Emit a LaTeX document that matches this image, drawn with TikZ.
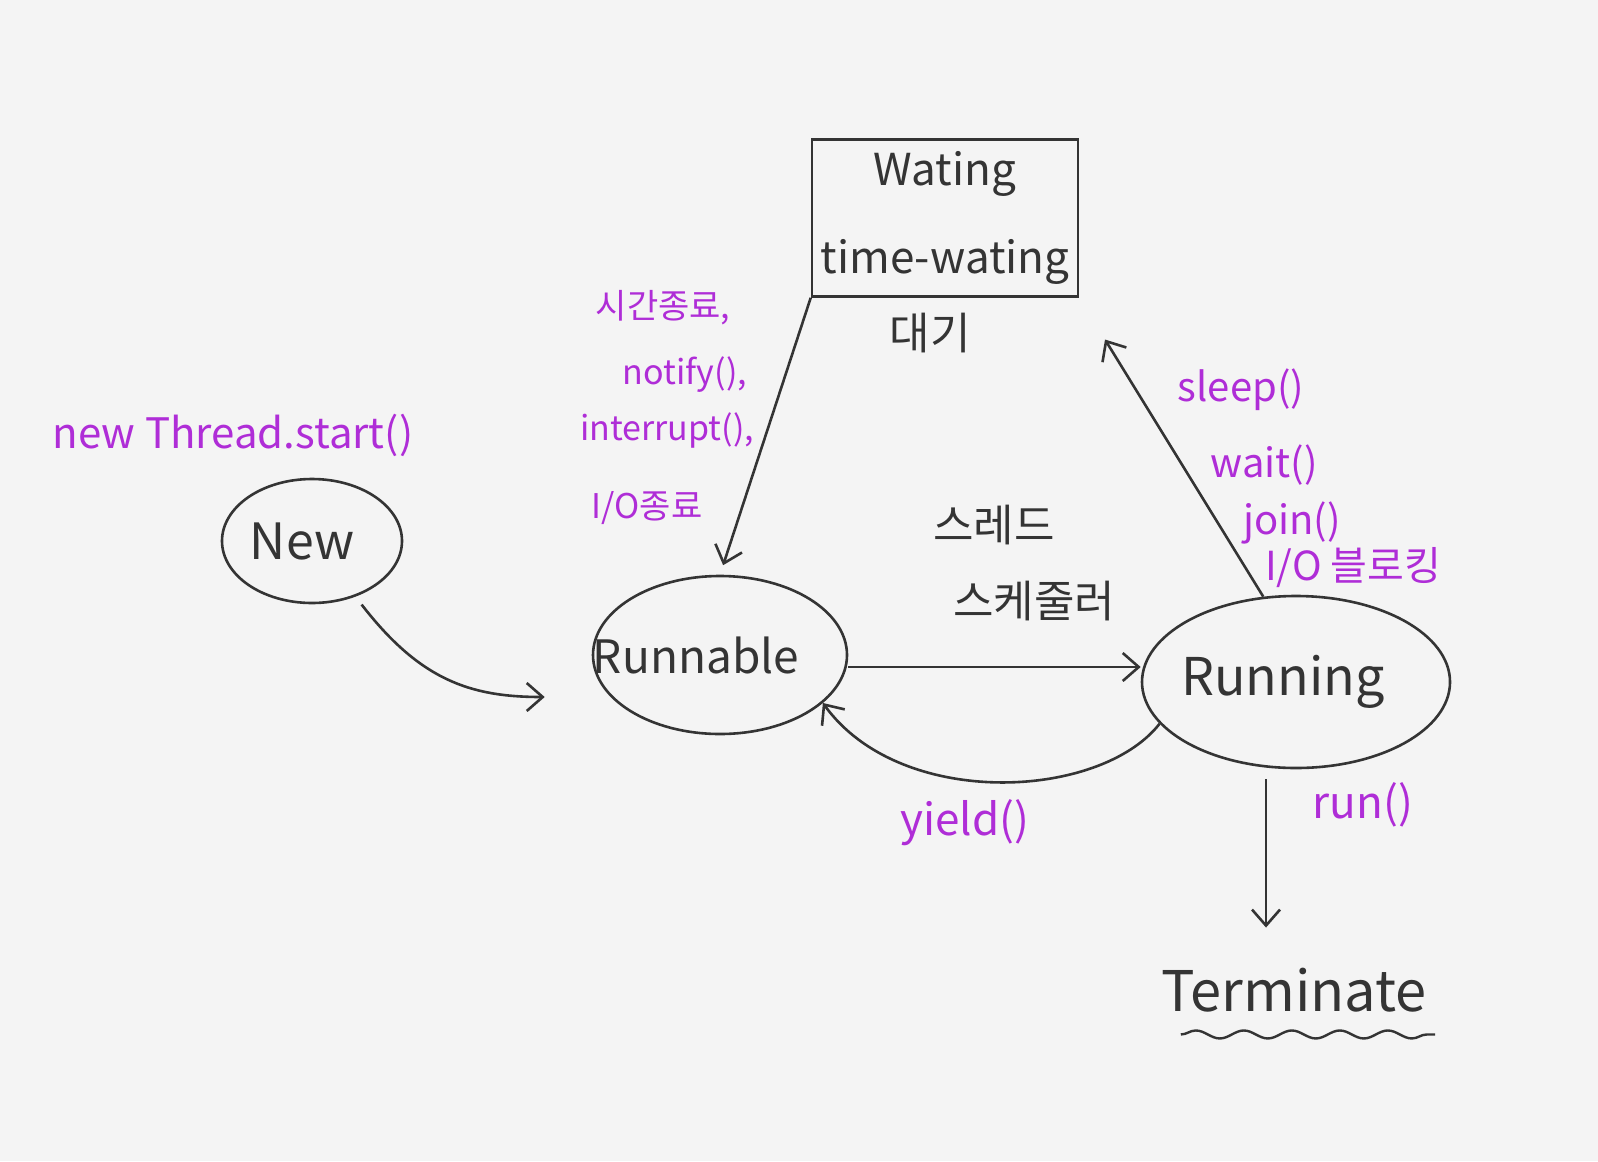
\documentclass[tikz,border=0pt]{standalone}
\usepackage{fontspec}
\setmainfont{Noto Sans CJK KR}
\usetikzlibrary{shapes.geometric,arrows.meta,decorations.pathmorphing}
\definecolor{ink}{RGB}{52,52,52}
\definecolor{pen}{RGB}{175,45,215}
\definecolor{paper}{RGB}{244,244,244}
\newcommand{\zbox}[2]{\makebox[0pt]{#1\kern #2}}
\begin{document}
\begin{tikzpicture}[x=0.5pt,y=-0.5pt,
  state/.style={ellipse,draw=ink,line width=1.3pt,inner sep=0pt,text=ink,font=\fontsize{25}{30}\selectfont},
  waitbox/.style={rectangle,draw=ink,line width=1.3pt,text=ink,align=center,minimum width=133pt,minimum height=78.5pt,inner sep=0pt,font=\fontsize{22}{44}\selectfont},
  arr/.style={draw=ink,line width=1.3pt,-{Straight Barb[length=8pt,width=14pt]}},
  lblL/.style={text=pen,inner sep=0pt,font=\fontsize{17}{20}\selectfont},
  lblR/.style={text=pen,inner sep=0pt,font=\fontsize{20}{24}\selectfont},
  lbl/.style={text=pen,inner sep=0pt,font=\fontsize{22}{26}\selectfont},
  note/.style={text=ink,inner sep=0pt,font=\fontsize{22}{26}\selectfont}]
\fill[paper] (0,0) rectangle (1598,1161);
\useasboundingbox (0,0) rectangle (1598,1161);

% states
\node[state,minimum width=90pt,minimum height=62pt] (new) at (312,541) {\zbox{New}{10pt}};
\node[state,minimum width=127pt,minimum height=79pt,font=\fontsize{23}{28}\selectfont] (runnable) at (720,655) {\zbox{Runnable}{24pt}};
\node[state,minimum width=154pt,minimum height=86pt,font=\fontsize{26}{30}\selectfont] (running) at (1296,682) {\zbox{Running}{13pt}};
\node[waitbox] (wbox) at (945,218) {Wating\\time-wating};
\node[text=ink,inner sep=0pt,font=\fontsize{28}{32}\selectfont] (term) at (1294,990) {Terminate};

% labels
\node[lbl,font=\fontsize{21}{25}\selectfont] (startlbl) at (233,435) {new Thread.start()};
\node[note] (daegi) at (930,333) {대기};
\node[note] (sch1) at (994,525) {스레드};
\node[note] (sch2) at (1034,601) {스케줄러};
\node[lblL] (l1) at (663,308) {시간종료,};
\node[lblL] (l2) at (685,375) {notify(),};
\node[lblL] (l3) at (667,430) {interrupt(),};
\node[lblL] (l4) at (647,508) {I/O종료};
\node[lblR] (r1) at (1241,390) {sleep()};
\node[lblR] (r2) at (1264,465) {wait()};
\node[lblR] (r3) at (1292,523) {join()};
\node[lblR] (r4) at (1353,568) {I/O 블로킹};
\node[lbl] (yieldlbl) at (965,823) {yield()};
\node[lbl] (runlbl) at (1363,805) {run()};

% connectors
\draw[arr,shorten <=5pt] (new.-52) .. controls (420,680) and (470,697) .. ([xshift=-23.5pt,yshift=-21pt]runnable.west);
\draw[arr] ([yshift=-6pt]runnable.east) -- ([yshift=7.5pt]running.west);
\draw[arr] (running.197) .. controls (1100,800) and (900,810) .. (runnable.-25);
\draw[arr,shorten >=5pt] (wbox.south west) -- (runnable.north);
\draw[arr,shorten >=24.5pt] (running.111) -- (wbox.south east);
\draw[arr,shorten <=5pt,shorten >=20pt] ([xshift=-15pt]running.south) -- ([xshift=-14pt]term.north);
\draw[ink,line width=1.2pt,decorate,decoration={snake,amplitude=2pt,segment length=24pt}]
  ([xshift=10pt,yshift=-11pt]term.south west) -- ([xshift=4pt,yshift=-11pt]term.south east);
\end{tikzpicture}
\end{document}
